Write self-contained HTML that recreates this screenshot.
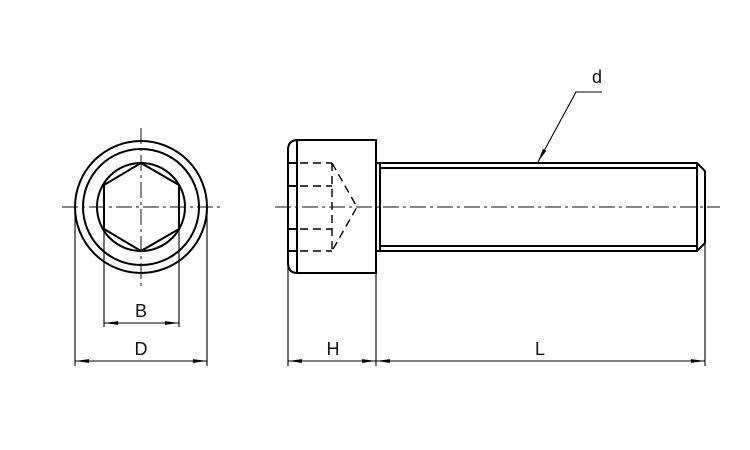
<!DOCTYPE html>
<html><head><style>html,body{margin:0;padding:0;background:#fff}svg{display:block}</style></head><body>
<svg width="750" height="450" viewBox="0 0 750 450" xmlns="http://www.w3.org/2000/svg">
<defs>
<marker id="a" markerWidth="14" markerHeight="5" refX="14" refY="2.5" orient="auto-start-reverse" markerUnits="userSpaceOnUse"><path d="M0,0.6 L14,2.5 L0,4.4 Z" fill="#000"/></marker>
</defs>
<g fill="none" stroke="#000" stroke-width="2">
<circle cx="141" cy="207" r="66"/>
<circle cx="141" cy="207" r="58"/>
<circle cx="141" cy="207" r="44"/>
<polygon points="141,163 179,185 179,229 141,251 104,229 104,185"/>
<path d="M298,140 H376 V273 H298 Q288,273 288,263 V150 Q288,140 298,140 Z"/>
<path d="M297,140 V273"/>
<path d="M288,163 H297 M288,186 H297 M288,229 H297 M288,251 H297"/>
<path d="M376,163 H697 L705,171 V243 L697,251 H376"/>
<path d="M380,163 V251"/>
<path d="M380,168 H697 M380,246 H697 M697,163 V251"/>
</g>
<g fill="none" stroke="#000" stroke-width="1.4" stroke-dasharray="8,5">
<path d="M300,163 H332 M300,186 H332 M300,229 H332 M300,251 H332"/>
<path d="M332,163 V251"/>
<path d="M332,163 L357,207 L332,251"/>
</g>
<g fill="none" stroke="#111" stroke-width="1" stroke-dasharray="16,4,3,4">
<path d="M62,207 H222"/>
<path d="M141,128 V288"/>
<path d="M275,207 H720"/>
</g>
<g fill="none" stroke="#000" stroke-width="1.1">
<path d="M104,229 V327 M179,229 V327"/>
<path d="M75,207 V366 M207,207 V366"/>
<path d="M288,263 V366 M376,273 V366 M705,243 V366"/>
<path d="M104,323 H179" marker-start="url(#a)" marker-end="url(#a)"/>
<path d="M75,361 H207" marker-start="url(#a)" marker-end="url(#a)"/>
<path d="M288,361 H376" marker-start="url(#a)" marker-end="url(#a)"/>
<path d="M376,361 H705" marker-start="url(#a)" marker-end="url(#a)"/>
<path d="M602,92 H576 L538,162" marker-end="url(#a)"/>
</g>
<g font-family="Liberation Sans, sans-serif" font-size="18" fill="#111" text-anchor="middle">
<text x="141" y="317">B</text>
<text x="141" y="355">D</text>
<text x="333" y="355">H</text>
<text x="540" y="355">L</text>
<text x="597" y="83">d</text>
</g>
</svg>
</body></html>
